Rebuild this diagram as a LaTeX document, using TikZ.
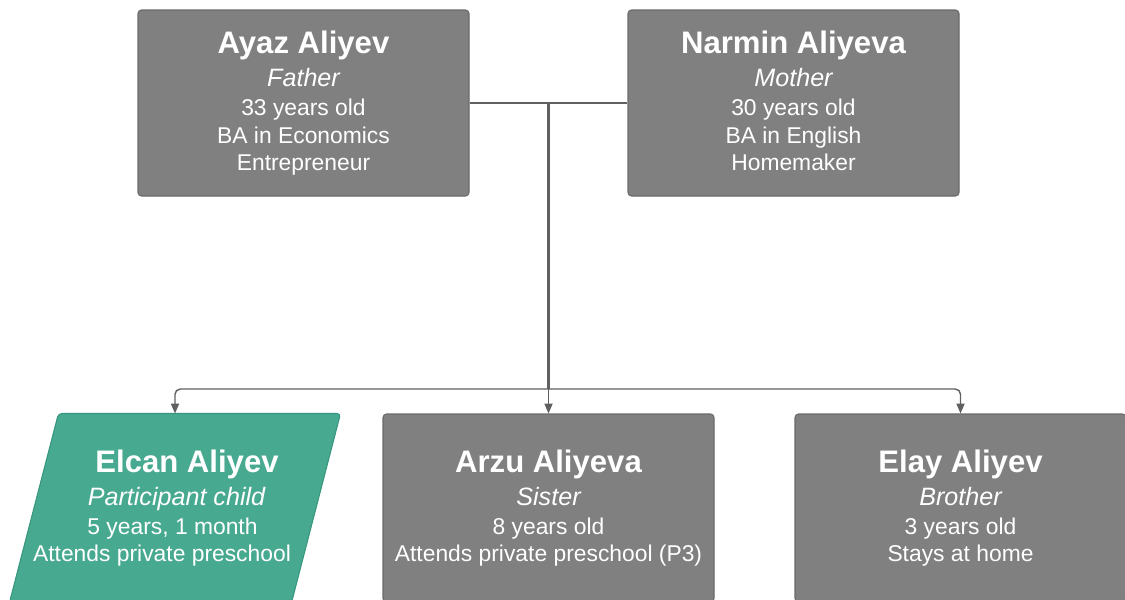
\documentclass[tikz,border=0pt]{standalone}
\usepackage{fontspec}
\setmainfont{Liberation Sans}
\usepackage{tikz}
\usetikzlibrary{arrows.meta,calc,positioning,backgrounds}
\definecolor{BoxGrey}{RGB}{128,128,128}
\definecolor{EdgeGrey}{RGB}{106,106,106}
\definecolor{LineGrey}{RGB}{96,96,96}
\definecolor{ChildTeal}{RGB}{72,169,145}
\definecolor{EdgeTeal}{RGB}{55,150,125}
\newcommand{\pname}[1]{{\fontsize{17.7}{20}\selectfont\bfseries #1}\\[3.3pt]}
\newcommand{\prole}[1]{{\fontsize{14.3}{15.6}\selectfont\itshape #1}\\[1pt]}
\newcommand{\nudge}[2]{\hspace*{#1}#2\hspace*{-#1}}

\begin{document}
\begin{tikzpicture}[>={Triangle[length=5.6pt,width=4.6pt]},
  person/.style={draw=EdgeGrey,fill=BoxGrey,rounded corners=2pt,line width=0.6pt,text=white,align=center,
    font=\fontsize{13}{15.6}\selectfont,minimum width=6.62cm,minimum height=3.72cm},
  child/.style={person,minimum height=3.76cm},
  focus/.style={child,draw=none,fill=none,minimum width=6.6cm},
  slanted/.style={draw=EdgeTeal,fill=ChildTeal,rounded corners=2pt,line width=0.6pt},
  tie/.style={draw=LineGrey,line width=0.8pt},
  trunk/.style={draw=LineGrey,line width=1.5pt}]
\useasboundingbox (0,0) rectangle (22.5,-11.98);
% parents
\node[person] (father) at (6.07,-2.06) {\pname{Ayaz Aliyev}\prole{Father}33 years old\\BA in Economics\\Entrepreneur};
\node[person] (mother) at (15.87,-2.06) {\pname{Narmin Aliyeva}\prole{Mother}30 years old\\BA in English\\Homemaker\vphantom{p}};
% children
\node[focus] (elcan) at (3.5,-10.16) {\pname{\nudge{0.24cm}{Elcan Aliyev}}\prole{\nudge{0.06cm}{Participant child}}\nudge{-0.1cm}{5 years, 1 month}\\\nudge{-0.26cm}{Attends private preschool}};
\begin{scope}[on background layer]
\draw[slanted] ($(elcan.north west)+(0.98,0)$) -- (elcan.north east) -- ($(elcan.south east)+(-0.98,0)$) -- (elcan.south west) -- cycle;
\end{scope}
\node[child] (arzu) at (10.97,-10.16) {\pname{Arzu Aliyeva}\prole{Sister}8 years old\\Attends private preschool (P3)};
\node[child] (elay) at (19.21,-10.16) {\pname{Elay Aliyev}\prole{Brother}3 years old\\Stays at home};
% links
\coordinate (mid) at ($(father.east)!0.5!(mother.west)$);
\coordinate (fork) at ($(mid)+(0,-5.72)$);
\draw[tie] (father.east) -- (mother.west);
\draw[trunk] (mid) -- (fork);
\draw[tie,->,rounded corners=3pt] (fork) -| (elcan.north);
\draw[tie,->] (fork) -- (arzu.north);
\draw[tie,->,rounded corners=3pt] (fork) -| (elay.north);
\end{tikzpicture}
\end{document}
